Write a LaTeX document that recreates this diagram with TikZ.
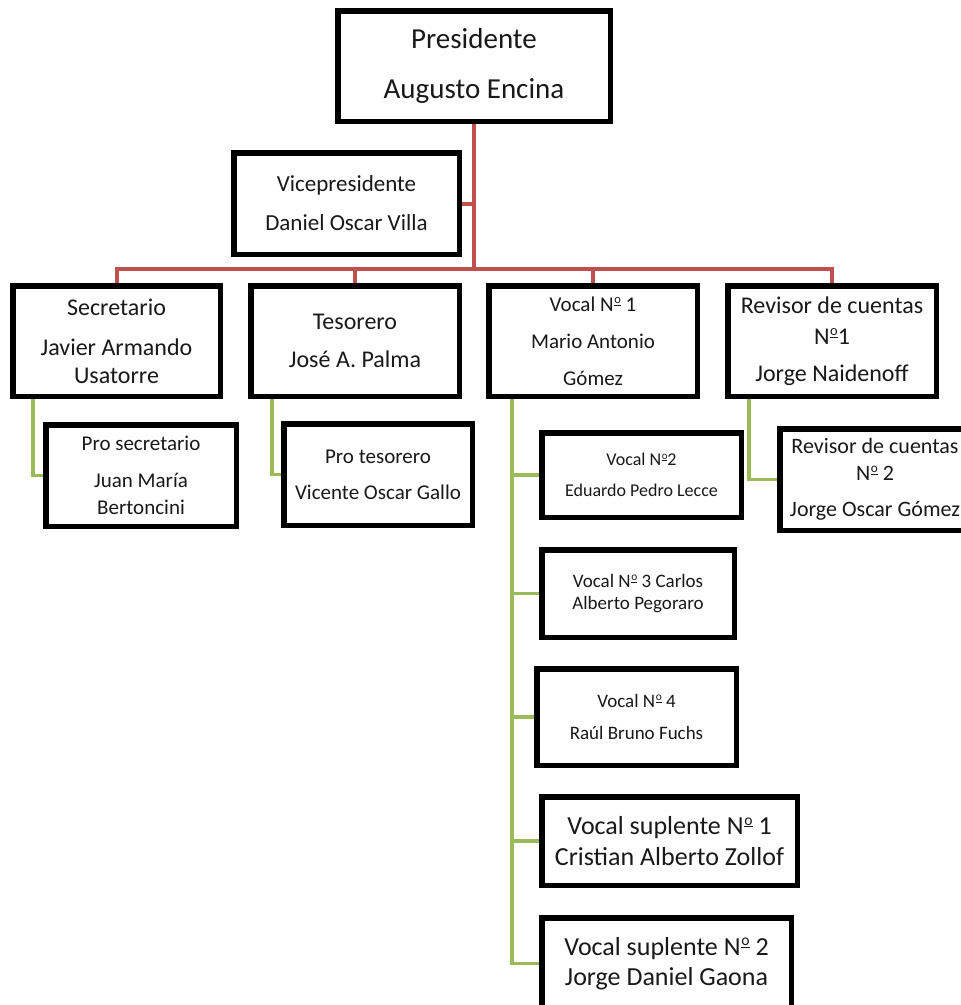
\documentclass[tikz,border=0pt]{standalone}
\usepackage{fontspec}
\setmainfont{Carlito}
\definecolor{redline}{HTML}{C0504D}
\definecolor{greenline}{HTML}{9BBB59}
\tikzset{
  orgbox/.style={draw=black, line width=3.5pt, fill=white, rectangle, inner sep=0pt, align=center, text=black!90},
  redcon/.style={draw=redline, line width=4pt},
  greencon/.style={draw=greenline, line width=3.5pt},
}
\newcommand{\fs}[2]{\fontsize{#1}{#2}\selectfont}
\newcommand{\No}{N\kern0.03em\raisebox{0.36em}{\fontsize{0.6em}{0.6em}\selectfont\underline{o}}}
\begin{document}
\begin{tikzpicture}[x=1pt,y=-1pt]
\clip (0,0) rectangle (961,1005);
\fill[white] (0,0) rectangle (961,1005);

\coordinate (bus) at (474,269);

% boxes
\node[orgbox, minimum width=270.5pt, minimum height=108.5pt, font=\fs{29}{50}] (pres) at (474,66) {Presidente\\Augusto Encina};
\node[orgbox, minimum width=223.5pt, minimum height=99.5pt, font=\fs{23}{39}] (vp) at (346.5,203.5) {Vicepresidente\\Daniel Oscar Villa};
\node[orgbox, minimum width=205.5pt, minimum height=108.5pt, font=\fs{24}{28}] (sec) at (116.5,341) {Secretario\\[12pt]Javier Armando\\Usatorre};
\node[orgbox, minimum width=206.5pt, minimum height=108.5pt, font=\fs{24}{38}] (tes) at (355,341) {Tesorero\\José A. Palma};
\node[orgbox, minimum width=206.5pt, minimum height=108.5pt, font=\fs{21}{37}] (voc1) at (593,341) {Vocal \No{} 1\\Mario Antonio\\Gómez};
\node[orgbox, minimum width=206.5pt, minimum height=108.5pt, font=\fs{24}{31}] (rev1) at (832,341) {Revisor de cuentas\\\No1\\[6pt]Jorge Naidenoff};
\node[orgbox, minimum width=188.5pt, minimum height=99.5pt, font=\fs{21}{27}] (prosec) at (141,475.5) {Pro secretario\\[10pt]Juan María\\Bertoncini};
\node[orgbox, minimum width=186.5pt, minimum height=99.5pt, font=\fs{21}{36}] (protes) at (378,474.5) {Pro tesorero\\Vicente Oscar Gallo};
\node[orgbox, minimum width=197.5pt, minimum height=82.5pt, font=\fs{18}{31}] (v2) at (641.5,475) {Vocal \No2\\Eduardo Pedro Lecce};
\node[orgbox, minimum width=188.5pt, minimum height=99.5pt, font=\fs{22}{27}] (rev2) at (875,479.5) {Revisor de cuentas\\\No{} 2\\[9pt]Jorge Oscar Gómez};
\node[orgbox, minimum width=190.5pt, minimum height=85.5pt, font=\fs{19}{22}] (v3) at (638,593.5) {Vocal \No{} 3 Carlos\\Alberto Pegoraro};
\node[orgbox, minimum width=197.5pt, minimum height=94.5pt, font=\fs{19}{32}] (v4) at (636.5,717) {Vocal \No{} 4\\Raúl Bruno Fuchs};
\node[orgbox, minimum width=253.5pt, minimum height=86.5pt, font=\fs{26}{31}] (s1) at (669.5,841) {Vocal suplente \No{} 1\\Cristian Alberto Zollof};
\node[orgbox, minimum width=247.5pt, minimum height=89.5pt, font=\fs{26}{30}] (s2) at (666.5,963.5) {Vocal suplente \No{} 2\\Jorge Daniel Gaona};

% red connectors
\draw[redcon] (pres.south) -- (bus);
\draw[redcon] (vp.east) -- (vp.east -| pres.south);
\draw[redcon] (bus) -| (sec.north);
\draw[redcon] (bus) -| (tes.north);
\draw[redcon] (bus) -| (voc1.north);
\draw[redcon] (bus) -| (rev1.north);

% green connectors
\draw[greencon] ([xshift=21pt]sec.south west) |- (prosec.west);
\draw[greencon] ([xshift=22pt]tes.south west) |- (protes.west);
\draw[greencon] ([xshift=22pt]rev1.south west) |- (rev2.west);
\coordinate (vtop) at ([xshift=24pt]voc1.south west);
\draw[greencon] (vtop) |- (s2.west);
\draw[greencon] (vtop) |- (v2.west);
\draw[greencon] (vtop) |- (v3.west);
\draw[greencon] (vtop) |- (v4.west);
\draw[greencon] (vtop) |- (s1.west);

% redraw box borders on top of connector ends
\foreach \n in {pres,vp,sec,tes,voc1,rev1,prosec,protes,v2,rev2,v3,v4,s1,s2}
  \draw[line width=3.5pt] (\n.north west) rectangle (\n.south east);
\end{tikzpicture}
\end{document}
